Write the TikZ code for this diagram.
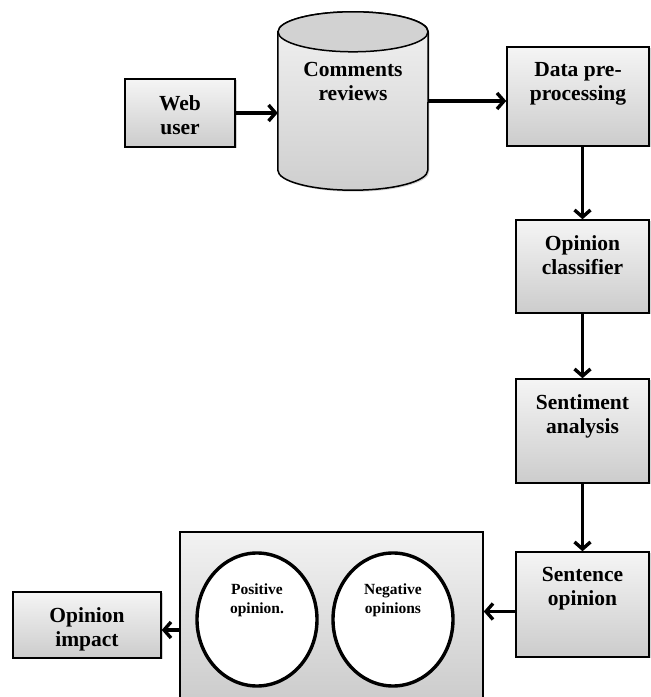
\documentclass[tikz,border=0pt]{standalone}
\usepackage{fontspec}
\setmainfont{Liberation Serif}
\usetikzlibrary{arrows.meta,shapes.geometric,shadows,positioning}

\begin{document}
\begin{tikzpicture}[x=1pt,y=1pt,
    >={Straight Barb[length=7pt,width=16pt]},
    box/.style={draw, line width=1.5pt, top color=gray!8, bottom color=gray!40,
        drop shadow={opacity=0.35, shadow xshift=1.5pt, shadow yshift=-1.5pt}},
    txt/.style={align=center, inner sep=0pt, font=\bfseries\fontsize{21.5}{24}\selectfont},
    small/.style={align=center, inner sep=0pt, font=\bfseries\fontsize{15.5}{19}\selectfont},
    opn/.style={draw, ellipse, fill=white, line width=3.4pt, minimum width=120pt, minimum height=133pt},
    flow/.style={->, line width=3.4pt}]
    \useasboundingbox (0,0) rectangle (651,697);

    % Nodes
    \node[box, minimum width=110pt, minimum height=68pt] (web) at (180,584) {};
    \node[minimum width=150pt, minimum height=178pt] (reviews) at (353,596) {};
    \node[box, minimum width=142pt, minimum height=99pt] (data) at (578,600.5) {};
    \node[box, minimum width=133pt, minimum height=93pt] (classifier) at (582.5,430.5) {};
    \node[box, minimum width=133pt, minimum height=104pt] (sentiment) at (582.5,266) {};
    \node[box, minimum width=133pt, minimum height=105pt] (sentence) at (582.5,92.5) {};
    \node[draw, line width=1.5pt, top color=gray!10, bottom color=gray!45,
        minimum width=303pt, minimum height=196pt] (big) at (331.5,67) {};
    \node[opn] (positive) at (257,77.5) {};
    \node[opn] (negative) at (393,77.5) {};
    \node[box, minimum width=148pt, minimum height=66pt] (impact) at (87,72) {};

    % Cylinder
    \path[draw, line width=1.5pt, top color=gray!10, bottom color=gray!38,
        drop shadow={opacity=0.35, shadow xshift=1.5pt, shadow yshift=-1.5pt}]
        ([yshift=-20pt]reviews.north west) -- ([yshift=20pt]reviews.south west)
        arc[start angle=180, end angle=360, x radius=75pt, y radius=20pt]
        -- ([yshift=-20pt]reviews.north east)
        arc[start angle=0, end angle=180, x radius=75pt, y radius=20pt] -- cycle;
    \draw[line width=1.5pt, fill=gray!35] ([yshift=-20pt]reviews.north) ellipse[x radius=75pt, y radius=20pt];

    % Texts
    \node[txt, below=17pt of web.north] (web-t) {Web\\user};
    \node[txt, below=50pt of reviews.north] (reviews-t) {Comments\\reviews};
    \node[txt, below=16pt of data.north] (data-t) {Data pre-\\processing};
    \node[txt, below=16pt of classifier.north] (classifier-t) {Opinion\\classifier};
    \node[txt, below=16pt of sentiment.north] (sentiment-t) {Sentiment\\analysis};
    \node[txt, below=16pt of sentence.north] (sentence-t) {Sentence\\opinion};
    \node[txt, below=16pt of impact.north] (impact-t) {Opinion\\impact};
    \node[small, below=32pt of positive.north] (positive-t) {Positive\\opinion.};
    \node[small, below=32pt of negative.north] (negative-t) {Negative\\opinions};

    % Arrows
    \draw[flow] (web.east) -- (web.east -| reviews.west);
    \draw[flow] (reviews.east) -- (reviews.east -| data.west);
    \draw[flow] (data.south -| classifier.north) -- (classifier.north);
    \draw[flow] (classifier.south) -- (sentiment.north);
    \draw[flow] (sentiment.south) -- (sentence.north);
    \draw[flow] ([yshift=-7pt]sentence.west) -- ([yshift=-7pt]sentence.west -| big.east);
    \draw[flow] (big.west) -- (big.west -| impact.east);
\end{tikzpicture}
\end{document}
